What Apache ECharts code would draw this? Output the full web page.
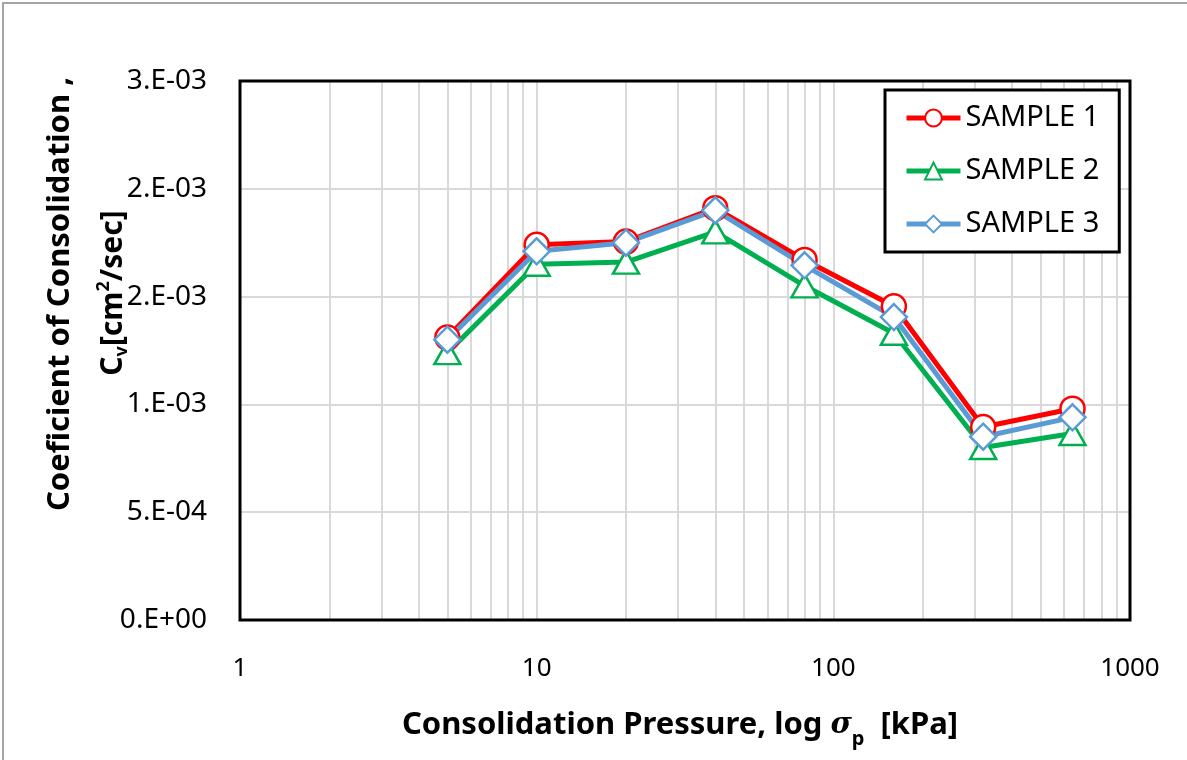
<!DOCTYPE html>
<html>
<head>
<meta charset="utf-8">
<title>Coefficient of Consolidation</title>
<script src="https://cdn.jsdelivr.net/npm/echarts@6/dist/echarts.min.js"></script>
<style>
  html, body { margin: 0; padding: 0; background: #fff; }
  #chart { width: 1187px; height: 760px; }
</style>
</head>
<body>
<div id="chart"></div>
<script>
// Consolidation pressure steps [kPa]
const pressure = [5, 10, 20, 40, 80, 160, 320, 640];

// Coefficient of consolidation Cv [cm2/sec] per sample
const sample1 = [1.31e-3, 1.74e-3, 1.755e-3, 1.91e-3, 1.67e-3, 1.455e-3, 0.895e-3, 0.98e-3];
const sample2 = [1.24e-3, 1.65e-3, 1.66e-3, 1.80e-3, 1.55e-3, 1.33e-3, 0.80e-3, 0.865e-3];
const sample3 = [1.30e-3, 1.71e-3, 1.75e-3, 1.90e-3, 1.645e-3, 1.405e-3, 0.85e-3, 0.94e-3];

const seriesNames = ['SAMPLE 1', 'SAMPLE 2', 'SAMPLE 3'];

// Y tick labels in 0.E+00 number format (step 5E-04)
const yStep = 5e-4;
const yTickLabels = ['0.E+00', '5.E-04', '1.E-03', '2.E-03', '2.E-03', '3.E-03'];

// X tick labels (log decades) and minor gridline multipliers per decade
const xTickLabels = ['1', '10', '100', '1000'];
const minorMultipliers = [2, 3, 4, 5, 6, 7, 8, 9];

const minorLines = [];
[1, 10, 100].forEach(function (decade) {
  minorMultipliers.forEach(function (m) { minorLines.push({ xAxis: m * decade }); });
});

const gridColor = '#d9d9d9';
const grid = { left: 240, top: 81, right: 57, bottom: 140 };

const chart = echarts.init(document.getElementById('chart'), null, { renderer: 'canvas' });

function pairs(ys) {
  return pressure.map(function (x, i) { return [x, ys[i]]; });
}

function lineSeries(name, ys, color, symbol, symbolSize) {
  return {
    name: name,
    type: 'line',
    data: pairs(ys),
    z: 3,
    symbol: symbol,
    symbolSize: symbolSize,
    showAllSymbol: true,
    lineStyle: { color: color, width: 5 },
    itemStyle: { color: '#fff', borderColor: color, borderWidth: 2.5 },
    emphasis: { disabled: true }
  };
}

const option = {
  animation: false,
  backgroundColor: '#fff',
  grid: grid,
  xAxis: {
    type: 'log',
    logBase: 10,
    min: 1,
    max: 1000,
    axisLine: { show: false },
    axisTick: { show: false },
    axisLabel: {
      margin: 36,
      fontFamily: 'Noto Sans',
      fontSize: 26,
      color: '#000',
      formatter: function (v) {
        const idx = Math.round(Math.log10(v));
        return xTickLabels[idx] !== undefined ? xTickLabels[idx] : '';
      }
    },
    splitLine: { show: true, lineStyle: { color: gridColor, width: 2 } }
  },
  yAxis: {
    type: 'value',
    min: 0,
    max: 2.5e-3,
    interval: yStep,
    axisLine: { show: false },
    axisTick: { show: false },
    axisLabel: {
      margin: 33,
      fontFamily: 'Noto Sans',
      fontSize: 28,
      color: '#000',
      formatter: function (v) {
        return yTickLabels[Math.round(v / yStep)];
      }
    },
    splitLine: { show: true, lineStyle: { color: gridColor, width: 2 } }
  },
  legend: {
    data: seriesNames,
    orient: 'vertical',
    left: 885,
    top: 90,
    z: 10,
    itemWidth: 54,
    itemHeight: 21,
    itemGap: 21,
    padding: [12, 20, 12, 19],
    backgroundColor: '#fff',
    borderColor: '#000',
    borderWidth: 3,
    borderRadius: 0,
    lineStyle: { width: 5 },
    textStyle: { fontFamily: 'Noto Sans', fontSize: 29, color: '#000', lineHeight: 32 }
  },
  series: [
    {
      // minor log gridlines at 2..9 of each decade
      name: 'minor-grid',
      type: 'line',
      data: [],
      z: 1,
      silent: true,
      markLine: {
        z: 1,
        silent: true,
        symbol: ['none', 'none'],
        label: { show: false },
        lineStyle: { color: gridColor, width: 2, type: 'solid' },
        emphasis: { disabled: true },
        animation: false,
        data: minorLines
      }
    },
    lineSeries(seriesNames[0], sample1, '#ff0000', 'circle', 24),
    lineSeries(seriesNames[1], sample2, '#00b050', 'triangle', [26, 23]),
    lineSeries(seriesNames[2], sample3, '#5b9bd5', 'diamond', [26, 26])
  ],
  graphic: [
    {
      // chart area frame
      type: 'rect',
      silent: true,
      z: 0,
      shape: { x: 3, y: 3, width: 1300, height: 900 },
      style: { fill: 'none', stroke: '#a6a6a6', lineWidth: 2 }
    },
    {
      // plot area border
      type: 'rect',
      silent: true,
      z: 8,
      shape: { x: grid.left, y: grid.top, width: 1187 - grid.left - grid.right, height: 760 - grid.top - grid.bottom },
      style: { fill: 'none', stroke: '#000', lineWidth: 3 }
    },
    {
      type: 'text',
      silent: true,
      z: 50,
      x: 680,
      y: 725,
      style: {
        text: '{b|Consolidation Pressure, log }{s|σ}{sub|p}{b|  [kPa]}',
        align: 'center',
        verticalAlign: 'middle',
        rich: {
          b: { fontFamily: 'Noto Sans', fontWeight: 'bold', fontSize: 31, fill: '#000', lineHeight: 36 },
          s: { fontFamily: 'DejaVu Serif', fontStyle: 'italic', fontWeight: 'bold', fontSize: 29, fill: '#000', lineHeight: 36 },
          sub: { fontFamily: 'Noto Sans', fontWeight: 'bold', fontSize: 20, fill: '#000', lineHeight: 36, verticalAlign: 'bottom', padding: [0, 0, -6, 0] }
        }
      }
    },
    {
      type: 'text',
      silent: true,
      z: 50,
      x: 60,
      y: 294,
      rotation: Math.PI / 2,
      style: {
        text: 'Coeficient of Consolidation ,',
        align: 'center',
        verticalAlign: 'middle',
        fontFamily: 'Noto Sans',
        fontWeight: 'bold',
        fontSize: 31,
        fill: '#000'
      }
    },
    {
      type: 'text',
      silent: true,
      z: 50,
      x: 113,
      y: 293,
      rotation: Math.PI / 2,
      style: {
        text: '{b|C}{sub|v}{b|[cm}{sup|2}{b|/sec]}',
        align: 'center',
        verticalAlign: 'middle',
        rich: {
          b: { fontFamily: 'Noto Sans', fontWeight: 'bold', fontSize: 30, fill: '#000', lineHeight: 36 },
          sub: { fontFamily: 'Noto Sans', fontWeight: 'bold', fontSize: 18, fill: '#000', lineHeight: 36, verticalAlign: 'bottom' },
          sup: { fontFamily: 'Noto Sans', fontWeight: 'bold', fontSize: 18, fill: '#000', lineHeight: 36, verticalAlign: 'top' }
        }
      }
    }
  ]
};

chart.setOption(option);
</script>
</body>
</html>
